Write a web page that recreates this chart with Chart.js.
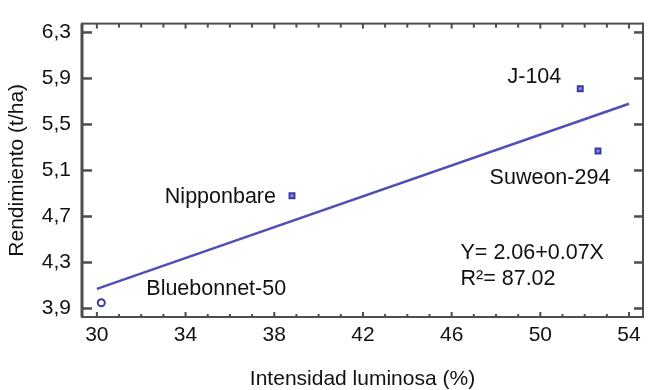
<!DOCTYPE html>
<html><head><meta charset="utf-8">
<script src="https://cdn.jsdelivr.net/npm/chart.js@4/dist/chart.umd.min.js"></script>
<style>html,body{margin:0;padding:0;background:#fff}</style>
</head><body>
<canvas id="c" width="649" height="390"></canvas>
<script>
// ---- data ----
const varieties = ['Bluebonnet-50', 'Nipponbare', 'J-104', 'Suweon-294'];
const luminosity = [30.2, 38.8, 51.8, 52.6];
const yieldTha = [3.95, 4.88, 5.81, 5.27];
const fitX = [30, 54];
const fitY = [4.07, 5.68];
const xTickValues = [30, 34, 38, 42, 46, 50, 54];
const yTickValues = [3.9, 4.3, 4.7, 5.1, 5.5, 5.9, 6.3];
const equationLines = ['Y= 2.06+0.07X', 'R\u00B2= 87.02'];

// ---- style ----
const FONT = 'Liberation Sans, Arial, Helvetica, sans-serif';
const labelOffsets = [
  {dx: 45, dy: -14, align: 'left'},
  {dx: -16, dy: 1, align: 'right'},
  {dx: -19, dy: -12, align: 'right'},
  {dx: -48, dy: 27, align: 'center'}
];
const pointStyles = ['circle', 'rect', 'rect', 'rect'];
const pointFills = ['#ffffff', '#8c8cd2', '#8c8cd2', '#8c8cd2'];

const overlay = {
  id: 'overlay',
  afterDatasetsDraw(chart) {
    const {ctx, chartArea: a, scales: {x, y}} = chart;
    ctx.save();
    // frame
    ctx.strokeStyle = '#4d4d4d';
    ctx.lineWidth = 2;
    ctx.strokeRect(a.left, a.top, a.right - a.left, a.bottom - a.top);
    ctx.lineWidth = 3;
    ctx.beginPath(); ctx.moveTo(a.left, a.top); ctx.lineTo(a.left, a.bottom); ctx.stroke();
    // y ticks left/right
    ctx.lineWidth = 2.5;
    yTickValues.forEach(v => {
      const py = y.getPixelForValue(v);
      ctx.beginPath(); ctx.moveTo(a.left, py); ctx.lineTo(a.left + 10, py); ctx.stroke();
      ctx.beginPath(); ctx.moveTo(a.right, py); ctx.lineTo(a.right - 9, py); ctx.stroke();
    });
    // x ticks (minor every unit, major on labels)
    ctx.lineWidth = 2;
    for (let v = Math.ceil(x.min); v <= Math.floor(x.max); v++) {
      const px = x.getPixelForValue(v);
      const major = xTickValues.includes(v);
      ctx.beginPath(); ctx.moveTo(px, a.bottom); ctx.lineTo(px, a.bottom - (major ? 5 : 3)); ctx.stroke();
      ctx.beginPath(); ctx.moveTo(px, a.top); ctx.lineTo(px, a.top + (major ? 5 : 4)); ctx.stroke();
    }
    // point labels
    ctx.fillStyle = '#111';
    ctx.font = '21.5px ' + FONT;
    ctx.textBaseline = 'middle';
    varieties.forEach((name, i) => {
      const px = x.getPixelForValue(luminosity[i]);
      const py = y.getPixelForValue(yieldTha[i]);
      const o = labelOffsets[i];
      ctx.textAlign = o.align;
      ctx.fillText(name, px + o.dx, py + o.dy);
    });
    // equation
    ctx.textAlign = 'left';
    const ex = x.getPixelForValue(46.4);
    ctx.fillText(equationLines[0], ex, y.getPixelForValue(4.385));
    ctx.fillText(equationLines[1], ex, y.getPixelForValue(4.155));
    ctx.restore();
  }
};

new Chart(document.getElementById('c'), {
  type: 'scatter',
  data: {
    datasets: [
      {
        data: luminosity.map((v, i) => ({x: v, y: yieldTha[i]})),
        pointStyle: pointStyles,
        pointRadius: 3.5,
        borderWidth: 2,
        borderColor: '#3a3aa6',
        backgroundColor: pointFills,
        order: 1
      },
      {
        type: 'line',
        data: fitX.map((v, i) => ({x: v, y: fitY[i]})),
        borderColor: '#5050b4',
        borderWidth: 2.5,
        pointRadius: 0,
        fill: false,
        order: 2
      }
    ]
  },
  options: {
    responsive: false,
    devicePixelRatio: 1,
    animation: false,
    layout: {padding: {left: 0, top: 17, right: 4, bottom: 0}},
    plugins: {legend: {display: false}, tooltip: {enabled: false}},
    scales: {
      x: {
        type: 'linear', min: 29.33, max: 54.63,
        afterBuildTicks: s => { s.ticks = xTickValues.map(v => ({value: v})); },
        afterFit: s => { s.height = 73; },
        grid: {display: false, drawTicks: false},
        border: {display: false},
        ticks: {color: '#111', font: {family: FONT, size: 21}, padding: 6, maxRotation: 0, autoSkip: false,
                callback: v => String(v)},
        title: {display: true, text: 'Intensidad luminosa (%)', color: '#111',
                font: {family: FONT, size: 21, lineHeight: 1}, padding: 0}
      },
      y: {
        type: 'linear', min: 3.826, max: 6.377,
        afterBuildTicks: s => { s.ticks = yTickValues.map(v => ({value: v})); },
        afterFit: s => { s.width = 82; },
        grid: {display: false, drawTicks: false},
        border: {display: false},
        ticks: {color: '#111', font: {family: FONT, size: 21}, padding: 11, autoSkip: false,
                callback: v => v.toFixed(1).replace('.', ',')},
        title: {display: true, text: 'Rendimiento (t/ha)', color: '#111',
                font: {family: FONT, size: 21}, padding: {top: 5, bottom: 0}}
      }
    }
  },
  plugins: [overlay]
});
</script>
</body></html>
